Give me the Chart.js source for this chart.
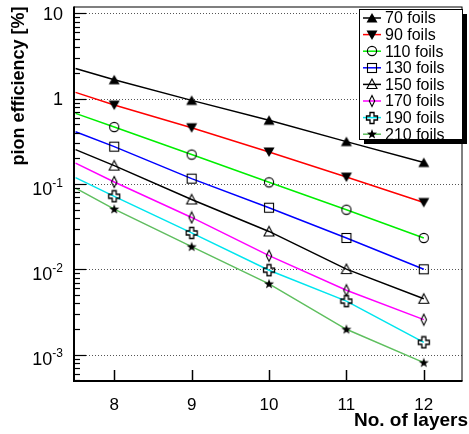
<!DOCTYPE html>
<html>
<head>
<meta charset="utf-8">
<script src="https://cdn.jsdelivr.net/npm/chart.js@4"></script>
<style>
html,body{margin:0;padding:0;background:#fff;}
canvas{display:block;}
</style>
</head>
<body>
<canvas id="c" width="469" height="434"></canvas>
<script>
// ---- data ----
const layers = [8, 9, 10, 11, 12];
const lineStartX = 7.5;
const seriesLabels = ['70 foils', '90 foils', '110 foils', '130 foils', '150 foils', '170 foils', '190 foils', '210 foils'];
const eff70  = [1.67, 0.958, 0.56, 0.315, 0.179];
const eff90  = [0.844, 0.458, 0.238, 0.121, 0.061];
const eff110 = [0.467, 0.222, 0.105, 0.0501, 0.0234];
const eff130 = [0.275, 0.116, 0.0529, 0.0234, 0.01005];
const eff150 = [0.165, 0.0661, 0.0279, 0.0101, 0.00453];
const eff170 = [0.106, 0.0407, 0.0145, 0.00571, 0.00258];
const eff190 = [0.072, 0.0268, 0.0098, 0.00425, 0.0014];
const eff210 = [0.051, 0.0185, 0.00679, 0.00199, 0.00081];
const lineStartValues = [2.27, 1.19, 0.675, 0.411, 0.254, 0.176, 0.119, 0.0898];
const xTickValues = [8, 9, 10, 11, 12];
const xTickLabels = ['8', '9', '10', '11', '12'];
const yTickValues = [10, 1, 0.1, 0.01, 0.001];
const yTickBase = ['10', '1', '10', '10', '10'];
const yTickExp  = ['', '', '-1', '-2', '-3'];
const xTitle = 'No. of layers';
const yTitle = 'pion efficiency [%]';

// ---- styles ----
const allSeries = [eff70, eff90, eff110, eff130, eff150, eff170, eff190, eff210];
const lineColors = ['#000000', '#ff0000', '#00ee00', '#0000ff', '#000000', '#ff00ff', '#00e5ee', '#5fbf5f'];
const markerKinds = ['tri', 'itri', 'circle', 'square', 'otri', 'diamond', 'cross', 'star'];
const FONT = '"Liberation Sans", Arial, Helvetica, sans-serif';

function makeMarker(kind) {
  const s = 14, c = document.createElement('canvas');
  c.width = s; c.height = s;
  const g = c.getContext('2d');
  g.strokeStyle = '#000'; g.fillStyle = '#000'; g.lineWidth = 1.1; g.lineJoin = 'miter';
  const poly = (pts) => { g.beginPath(); g.moveTo(pts[0][0], pts[0][1]); for (let i = 1; i < pts.length; i++) g.lineTo(pts[i][0], pts[i][1]); g.closePath(); };
  switch (kind) {
    case 'tri': poly([[7, 2], [12.5, 11.5], [1.5, 11.5]]); g.fill(); break;
    case 'itri': poly([[1.5, 2.5], [12.5, 2.5], [7, 12]]); g.fill(); break;
    case 'circle': g.beginPath(); g.arc(7, 7, 4.6, 0, Math.PI * 2); g.stroke(); break;
    case 'square': g.strokeRect(2.5, 2.5, 9, 9); break;
    case 'otri': poly([[7, 2], [12, 11.5], [2, 11.5]]); g.stroke(); break;
    case 'diamond': poly([[7, 1.5], [9.7, 7], [7, 12.5], [4.3, 7]]); g.stroke(); break;
    case 'cross': g.lineWidth = 1.3; poly([[5, 1.5], [9, 1.5], [9, 5], [12.5, 5], [12.5, 9], [9, 9], [9, 12.5], [5, 12.5], [5, 9], [1.5, 9], [1.5, 5], [5, 5]]); g.stroke(); break;
    case 'star': {
      const pts = [];
      for (let i = 0; i < 10; i++) {
        const r = i % 2 === 0 ? 5.3 : 2.1;
        const a = -Math.PI / 2 + i * Math.PI / 5;
        pts.push([7 + r * Math.cos(a), 7.3 + r * Math.sin(a)]);
      }
      poly(pts); g.fill(); break;
    }
  }
  return c;
}
const markers = markerKinds.map(makeMarker);

const datasets = allSeries.map((vals, i) => ({
  label: seriesLabels[i],
  data: [{ x: lineStartX, y: lineStartValues[i] }].concat(layers.map((x, j) => ({ x: x, y: vals[j] }))),
  showLine: true,
  borderColor: lineColors[i],
  borderWidth: 1.5,
  pointStyle: markers[i],
  pointRadius: (ctx) => ctx.dataIndex === 0 ? 0 : 5,
  pointHoverRadius: (ctx) => ctx.dataIndex === 0 ? 0 : 5,
  tension: 0,
  fill: false
}));

const decorations = {
  id: 'decorations',
  beforeDatasetsDraw(chart) {
    const ctx = chart.ctx, a = chart.chartArea, ys = chart.scales.y;
    ctx.save();
    ctx.strokeStyle = '#555';
    ctx.lineWidth = 1;
    ctx.setLineDash([1, 2]);
    yTickValues.forEach(v => {
      const y = Math.round(ys.getPixelForValue(v)) + 0.5;
      ctx.beginPath(); ctx.moveTo(a.left, y); ctx.lineTo(a.right, y); ctx.stroke();
    });
    ctx.restore();
  },
  afterDatasetsDraw(chart) {
    const ctx = chart.ctx, a = chart.chartArea, xs = chart.scales.x, ys = chart.scales.y;
    ctx.save();
    ctx.setLineDash([]);
    ctx.strokeStyle = '#000';
    // frame
    ctx.lineWidth = 1;
    ctx.strokeRect(a.left + 0.5, a.top + 0.5, a.right - a.left - 1, a.bottom - a.top - 1);
    ctx.lineWidth = 2;
    ctx.beginPath(); ctx.moveTo(a.left, a.top); ctx.lineTo(a.left, a.bottom); ctx.lineTo(a.right, a.bottom); ctx.stroke();
    // y ticks (inside)
    ctx.lineWidth = 1.2;
    const lo = Math.floor(Math.log10(ys.min)), hi = Math.ceil(Math.log10(ys.max));
    for (let e = lo; e <= hi; e++) {
      for (let m = 1; m <= 9; m++) {
        const v = m * Math.pow(10, e);
        if (v < ys.min || v > ys.max) continue;
        const y = Math.round(ys.getPixelForValue(v)) + 0.5;
        const len = m === 1 ? 12 : 6;
        ctx.beginPath(); ctx.moveTo(a.left, y); ctx.lineTo(a.left + len, y); ctx.stroke();
      }
    }
    // x ticks (inside)
    ctx.lineWidth = 1.5;
    xTickValues.forEach(v => {
      const x = Math.round(xs.getPixelForValue(v)) + 0.5;
      ctx.beginPath(); ctx.moveTo(x, a.bottom); ctx.lineTo(x, a.bottom - 11); ctx.stroke();
    });
    // x tick labels
    ctx.fillStyle = '#000';
    ctx.font = '17px ' + FONT;
    ctx.textAlign = 'center';
    ctx.textBaseline = 'alphabetic';
    xTickValues.forEach((v, i) => {
      ctx.fillText(xTickLabels[i], xs.getPixelForValue(v), a.bottom + 29);
    });
    // y tick labels
    yTickValues.forEach((v, i) => {
      const y = ys.getPixelForValue(v);
      const right = a.left - 11;
      if (yTickExp[i]) {
        ctx.font = '12px ' + FONT;
        ctx.textAlign = 'right';
        const ew = ctx.measureText(yTickExp[i]).width;
        ctx.fillText(yTickExp[i], right, y + 2.5);
        ctx.font = '18px ' + FONT;
        ctx.fillText(yTickBase[i], right - ew, y + 10.5);
      } else {
        ctx.font = '18px ' + FONT;
        ctx.textAlign = 'right';
        ctx.fillText(yTickBase[i], right, y + 6.5);
      }
    });
    // axis titles
    ctx.font = 'bold 19px ' + FONT;
    ctx.textAlign = 'right';
    ctx.fillText(xTitle, 468, a.bottom + 45);
    ctx.save();
    ctx.translate(24, a.top);
    ctx.rotate(-Math.PI / 2);
    ctx.font = 'bold 18px ' + FONT;
    ctx.textAlign = 'right';
    ctx.fillText(yTitle, 0, 0);
    ctx.restore();
    // legend
    const lx = 359, ly = 9, lw = 104, lh = 131;
    ctx.fillStyle = '#000';
    ctx.fillRect(lx + lw, ly + 5, 4, lh - 1);
    ctx.fillRect(lx + 5, ly + lh, lw - 1, 4);
    ctx.fillStyle = '#fff';
    ctx.fillRect(lx, ly, lw, lh);
    ctx.lineWidth = 1;
    ctx.strokeStyle = '#000';
    ctx.strokeRect(lx + 0.5, ly + 0.5, lw - 1, lh - 1);
    ctx.font = '16px ' + FONT;
    ctx.textAlign = 'left';
    ctx.textBaseline = 'middle';
    chart.data.datasets.forEach((ds, i) => {
      const cy = 18 + i * 16.6;
      ctx.strokeStyle = ds.borderColor;
      ctx.lineWidth = 1.5;
      ctx.beginPath(); ctx.moveTo(363, cy); ctx.lineTo(381, cy); ctx.stroke();
      ctx.drawImage(ds.pointStyle, 372 - 7, Math.round(cy) - 7);
      ctx.fillStyle = '#000';
      ctx.fillText(ds.label, 385, cy + 1);
    });
    ctx.restore();
  }
};

new Chart(document.getElementById('c'), {
  type: 'scatter',
  data: { datasets: datasets },
  options: {
    responsive: false,
    devicePixelRatio: 1,
    animation: false,
    layout: { padding: { left: 74, top: 5, right: 3, bottom: 53 } },
    plugins: { legend: { display: false }, tooltip: { enabled: false } },
    scales: {
      x: { type: 'linear', min: 7.48, max: 12.5, display: false },
      y: { type: 'logarithmic', min: 0.000493, max: 12.07, display: false }
    }
  },
  plugins: [decorations]
});
</script>
</body>
</html>
